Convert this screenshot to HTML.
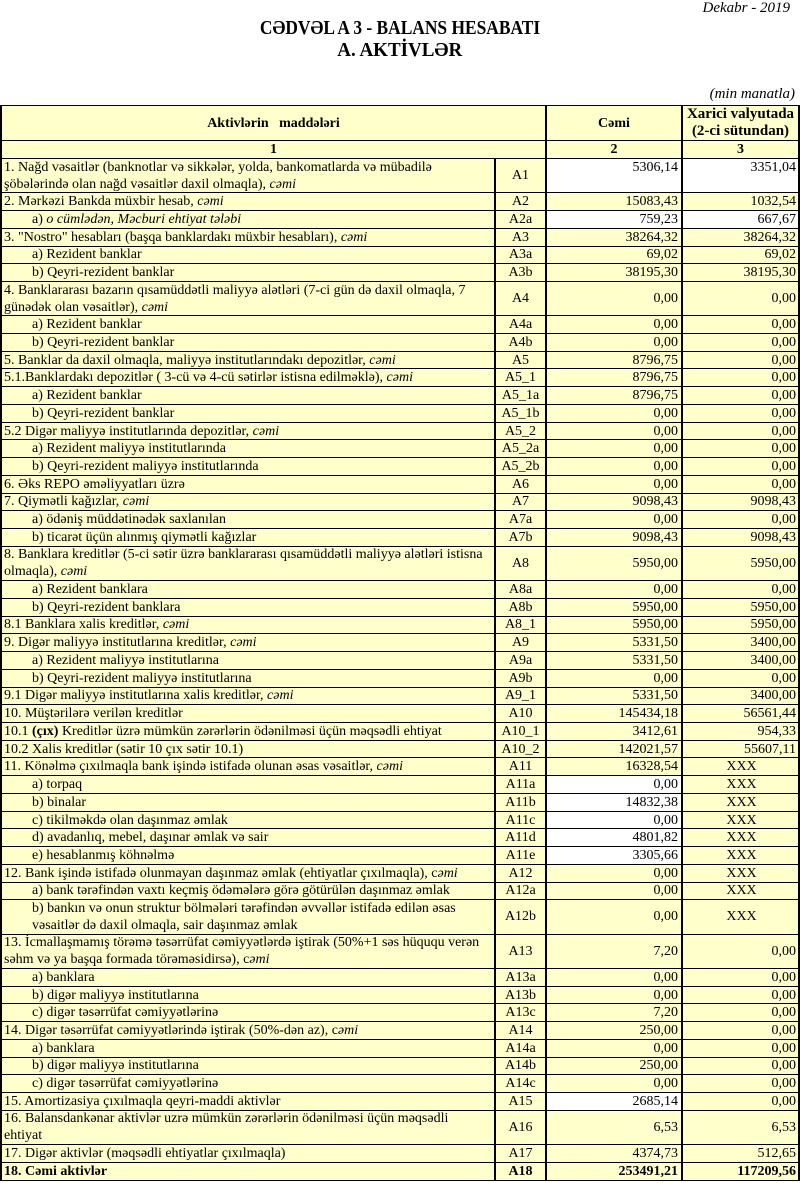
<!DOCTYPE html>
<html>
<head>
<meta charset="utf-8">
<style>
  html,body{margin:0;padding:0;}
  body{width:800px;height:1183px;position:relative;overflow:hidden;background:#fff;font-family:"Liberation Serif","DejaVu Serif",serif;color:#000;}
  .abs{position:absolute;white-space:nowrap;}
  .dek{right:10px;top:0px;font-style:italic;font-size:15px;line-height:16px;}
  .t1{left:0;width:800px;top:17px;text-align:center;font-weight:bold;font-size:20px;line-height:22px;}
  .t1 span{display:inline-block;transform:scaleX(0.87);transform-origin:center;}
  .t2{left:0;width:800px;top:39px;text-align:center;font-weight:bold;font-size:20px;line-height:22px;}
  .t2 span{display:inline-block;transform:scaleX(0.95);transform-origin:center;}
  .mm{right:5px;top:86px;font-style:italic;font-size:15px;line-height:17px;}

  .tbl{position:absolute;left:0;top:105px;width:800px;box-sizing:border-box;border:1px solid #000;border-left:2px solid #000;border-right:2px solid #000;border-bottom:none;background:#ffffcc;}
  .r{display:flex;height:17.74px;box-sizing:border-box;border-bottom:1px solid #000;font-size:14px;line-height:17px;}
  .r.d{height:34.3px;}
  .r>div{box-sizing:border-box;display:flex;align-items:center;white-space:nowrap;overflow:hidden;border-right:2px solid #000;}
  .r>div:last-child{border-right:none;}
  .a{width:494px;padding-left:2px;}
  .a.i{padding-left:30px;}
  .a>span{display:block;}
  .c{width:51px;justify-content:center;}
  .n{width:136px;justify-content:flex-end;padding-right:3px;}
  .m{width:115px;justify-content:flex-end;padding-right:2px;}
  .m.x{justify-content:center;padding-right:0;padding-left:2px;}
  .w{background:#fff;}
  .r.tp .n,.r.tp .m{align-items:flex-start;}
  .r.b{font-weight:bold;}

  .h{display:flex;box-sizing:border-box;border-bottom:1px solid #000;font-weight:bold;font-size:14px;}
  .h>div{box-sizing:border-box;display:flex;align-items:center;justify-content:center;text-align:center;border-right:2px solid #000;white-space:nowrap;}
  .h>div:last-child{border-right:none;}
  .h1{height:35px;line-height:17px;}
  .h2{height:18px;line-height:17px;}
  .hc1{width:545px;}
  .hc2{width:136px;}
  .hc3{width:115px;font-size:15px;}
</style>
</head>
<body>
<div class="abs dek">Dekabr - 2019</div>
<div class="abs t1"><span>CƏDVƏL A 3 - BALANS HESABATI</span></div>
<div class="abs t2"><span>A. AKTİVLƏR</span></div>
<div class="abs mm">(min manatla)</div>

<div class="tbl">
  <div class="h h1"><div class="hc1">Aktivlərin&nbsp;&nbsp;&nbsp;maddələri</div><div class="hc2">Cəmi</div><div class="hc3">Xarici valyutada<br>(2-ci sütundan)</div></div>
  <div class="h h2"><div class="hc1" style="font-size:14px">1</div><div class="hc2">2</div><div class="hc3" style="font-size:14px">3</div></div>

  <div class="r d tp"><div class="a"><span>1. Nağd vəsaitlər (banknotlar və sikkələr, yolda, bankomatlarda və mübadilə<br>şöbələrində olan nağd vəsaitlər daxil olmaqla), <i>cəmi</i></span></div><div class="c">A1</div><div class="n w">5306,14</div><div class="m w">3351,04</div></div>
  <div class="r"><div class="a">2. Mərkəzi Bankda müxbir hesab,&nbsp;<i>cəmi</i></div><div class="c">A2</div><div class="n">15083,43</div><div class="m">1032,54</div></div>
  <div class="r"><div class="a i">a)&nbsp;<i>o cümlədən, Məcburi ehtiyat tələbi</i></div><div class="c">A2a</div><div class="n w">759,23</div><div class="m w">667,67</div></div>
  <div class="r"><div class="a">3. "Nostro" hesabları (başqa banklardakı müxbir hesabları),&nbsp;<i>cəmi</i></div><div class="c">A3</div><div class="n">38264,32</div><div class="m">38264,32</div></div>
  <div class="r"><div class="a i">a) Rezident banklar</div><div class="c">A3a</div><div class="n">69,02</div><div class="m">69,02</div></div>
  <div class="r"><div class="a i">b) Qeyri-rezident banklar</div><div class="c">A3b</div><div class="n">38195,30</div><div class="m">38195,30</div></div>
  <div class="r d"><div class="a"><span>4. Banklararası bazarın qısamüddətli maliyyə alətləri (7-ci gün də daxil olmaqla, 7<br>günədək olan vəsaitlər), <i>cəmi</i></span></div><div class="c">A4</div><div class="n">0,00</div><div class="m">0,00</div></div>
  <div class="r"><div class="a i">a) Rezident banklar</div><div class="c">A4a</div><div class="n">0,00</div><div class="m">0,00</div></div>
  <div class="r"><div class="a i">b) Qeyri-rezident banklar</div><div class="c">A4b</div><div class="n">0,00</div><div class="m">0,00</div></div>
  <div class="r"><div class="a">5. Banklar da daxil olmaqla, maliyyə institutlarındakı depozitlər,&nbsp;<i>cəmi</i></div><div class="c">A5</div><div class="n">8796,75</div><div class="m">0,00</div></div>
  <div class="r"><div class="a">5.1.Banklardakı depozitlər ( 3-cü və 4-cü sətirlər istisna edilməklə),&nbsp;<i>cəmi</i></div><div class="c">A5_1</div><div class="n">8796,75</div><div class="m">0,00</div></div>
  <div class="r"><div class="a i">a) Rezident banklar</div><div class="c">A5_1a</div><div class="n">8796,75</div><div class="m">0,00</div></div>
  <div class="r"><div class="a i">b) Qeyri-rezident banklar</div><div class="c">A5_1b</div><div class="n">0,00</div><div class="m">0,00</div></div>
  <div class="r"><div class="a">5.2 Digər maliyyə institutlarında depozitlər,&nbsp;<i>cəmi</i></div><div class="c">A5_2</div><div class="n">0,00</div><div class="m">0,00</div></div>
  <div class="r"><div class="a i">a) Rezident maliyyə institutlarında</div><div class="c">A5_2a</div><div class="n">0,00</div><div class="m">0,00</div></div>
  <div class="r"><div class="a i">b) Qeyri-rezident maliyyə institutlarında</div><div class="c">A5_2b</div><div class="n">0,00</div><div class="m">0,00</div></div>
  <div class="r"><div class="a">6. Əks REPO əməliyyatları üzrə</div><div class="c">A6</div><div class="n">0,00</div><div class="m">0,00</div></div>
  <div class="r"><div class="a">7. Qiymətli kağızlar,&nbsp;<i>cəmi</i></div><div class="c">A7</div><div class="n">9098,43</div><div class="m">9098,43</div></div>
  <div class="r"><div class="a i">a) ödəniş müddətinədək saxlanılan</div><div class="c">A7a</div><div class="n">0,00</div><div class="m">0,00</div></div>
  <div class="r"><div class="a i">b) ticarət üçün alınmış qiymətli kağızlar</div><div class="c">A7b</div><div class="n">9098,43</div><div class="m">9098,43</div></div>
  <div class="r d"><div class="a"><span>8. Banklara kreditlər (5-ci sətir üzrə banklararası qısamüddətli maliyyə alətləri istisna<br>olmaqla), <i>cəmi</i></span></div><div class="c">A8</div><div class="n">5950,00</div><div class="m">5950,00</div></div>
  <div class="r"><div class="a i">a) Rezident banklara</div><div class="c">A8a</div><div class="n">0,00</div><div class="m">0,00</div></div>
  <div class="r"><div class="a i">b) Qeyri-rezident banklara</div><div class="c">A8b</div><div class="n">5950,00</div><div class="m">5950,00</div></div>
  <div class="r"><div class="a">8.1 Banklara xalis kreditlər,&nbsp;<i>cəmi</i></div><div class="c">A8_1</div><div class="n">5950,00</div><div class="m">5950,00</div></div>
  <div class="r"><div class="a">9. Digər maliyyə institutlarına kreditlər,&nbsp;<i>cəmi</i></div><div class="c">A9</div><div class="n">5331,50</div><div class="m">3400,00</div></div>
  <div class="r"><div class="a i">a) Rezident maliyyə institutlarına</div><div class="c">A9a</div><div class="n">5331,50</div><div class="m">3400,00</div></div>
  <div class="r"><div class="a i">b) Qeyri-rezident maliyyə institutlarına</div><div class="c">A9b</div><div class="n">0,00</div><div class="m">0,00</div></div>
  <div class="r"><div class="a">9.1 Digər maliyyə institutlarına xalis kreditlər,&nbsp;<i>cəmi</i></div><div class="c">A9_1</div><div class="n">5331,50</div><div class="m">3400,00</div></div>
  <div class="r"><div class="a">10. Müştərilərə verilən kreditlər</div><div class="c">A10</div><div class="n">145434,18</div><div class="m">56561,44</div></div>
  <div class="r"><div class="a">10.1&nbsp;<b>(çıx)</b>&nbsp;Kreditlər üzrə mümkün zərərlərin ödənilməsi üçün məqsədli ehtiyat</div><div class="c">A10_1</div><div class="n">3412,61</div><div class="m">954,33</div></div>
  <div class="r"><div class="a">10.2 Xalis kreditlər (sətir 10 çıx sətir 10.1)</div><div class="c">A10_2</div><div class="n">142021,57</div><div class="m">55607,11</div></div>
  <div class="r"><div class="a">11. Könəlmə çıxılmaqla bank işində istifadə olunan əsas vəsaitlər,&nbsp;<i>cəmi</i></div><div class="c">A11</div><div class="n">16328,54</div><div class="m x">XXX</div></div>
  <div class="r"><div class="a i">a) torpaq</div><div class="c">A11a</div><div class="n w">0,00</div><div class="m x">XXX</div></div>
  <div class="r"><div class="a i">b) binalar</div><div class="c">A11b</div><div class="n w">14832,38</div><div class="m x">XXX</div></div>
  <div class="r"><div class="a i">c) tikilməkdə olan daşınmaz əmlak</div><div class="c">A11c</div><div class="n w">0,00</div><div class="m x">XXX</div></div>
  <div class="r"><div class="a i">d) avadanlıq, mebel, daşınar əmlak və sair</div><div class="c">A11d</div><div class="n w">4801,82</div><div class="m x">XXX</div></div>
  <div class="r"><div class="a i">e) hesablanmış köhnəlmə</div><div class="c">A11e</div><div class="n w">3305,66</div><div class="m x">XXX</div></div>
  <div class="r"><div class="a">12. Bank işində istifadə olunmayan daşınmaz əmlak (ehtiyatlar çıxılmaqla), c<i>əmi</i></div><div class="c">A12</div><div class="n">0,00</div><div class="m x">XXX</div></div>
  <div class="r"><div class="a i">a) bank tərəfindən vaxtı keçmiş ödəmələrə görə götürülən daşınmaz əmlak</div><div class="c">A12a</div><div class="n">0,00</div><div class="m x">XXX</div></div>
  <div class="r d"><div class="a i"><span>b) bankın və onun struktur bölmələri tərəfindən əvvəllər istifadə edilən əsas<br>vəsaitlər də daxil olmaqla, sair daşınmaz əmlak</span></div><div class="c">A12b</div><div class="n">0,00</div><div class="m x">XXX</div></div>
  <div class="r d"><div class="a"><span>13. İcmallaşmamış törəmə təsərrüfat cəmiyyətlərdə iştirak (50%+1 səs hüququ verən<br>səhm və ya başqa formada törəməsidirsə), c<i>əmi</i></span></div><div class="c">A13</div><div class="n">7,20</div><div class="m">0,00</div></div>
  <div class="r"><div class="a i">a) banklara</div><div class="c">A13a</div><div class="n">0,00</div><div class="m">0,00</div></div>
  <div class="r"><div class="a i">b) digər maliyyə institutlarına</div><div class="c">A13b</div><div class="n">0,00</div><div class="m">0,00</div></div>
  <div class="r"><div class="a i">c) digər təsərrüfat cəmiyyətlərinə</div><div class="c">A13c</div><div class="n">7,20</div><div class="m">0,00</div></div>
  <div class="r"><div class="a">14. Digər təsərrüfat cəmiyyətlərində iştirak (50%-dən az), c<i>əmi</i></div><div class="c">A14</div><div class="n">250,00</div><div class="m">0,00</div></div>
  <div class="r"><div class="a i">a) banklara</div><div class="c">A14a</div><div class="n">0,00</div><div class="m">0,00</div></div>
  <div class="r"><div class="a i">b) digər maliyyə institutlarına</div><div class="c">A14b</div><div class="n">250,00</div><div class="m">0,00</div></div>
  <div class="r"><div class="a i">c) digər təsərrüfat cəmiyyətlərinə</div><div class="c">A14c</div><div class="n">0,00</div><div class="m">0,00</div></div>
  <div class="r"><div class="a">15. Amortizasiya çıxılmaqla qeyri-maddi aktivlər</div><div class="c">A15</div><div class="n w">2685,14</div><div class="m">0,00</div></div>
  <div class="r d"><div class="a"><span>16. Balansdankənar aktivlər uzrə mümkün zərərlərin ödənilməsi üçün məqsədli<br>ehtiyat</span></div><div class="c">A16</div><div class="n">6,53</div><div class="m">6,53</div></div>
  <div class="r"><div class="a">17. Digər aktivlər (məqsədli ehtiyatlar çıxılmaqla)</div><div class="c">A17</div><div class="n">4374,73</div><div class="m">512,65</div></div>
  <div class="r b"><div class="a">18. Cəmi aktivlər</div><div class="c">A18</div><div class="n">253491,21</div><div class="m">117209,56</div></div>
</div>
</body>
</html>
